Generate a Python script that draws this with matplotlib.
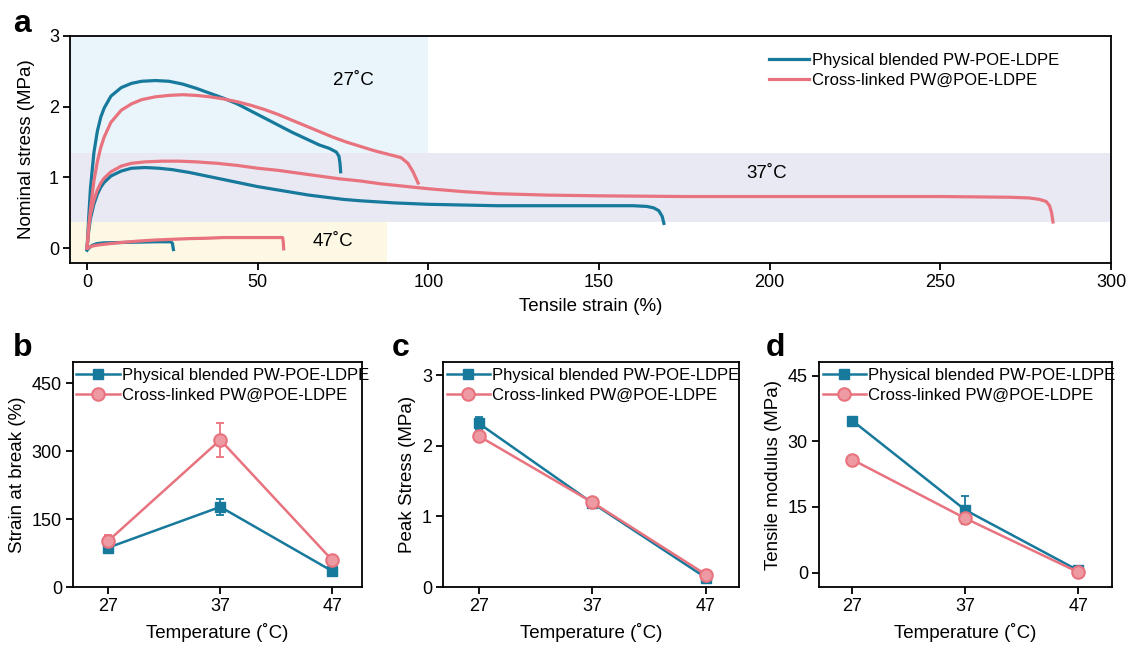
import matplotlib
matplotlib.use("Agg")
import matplotlib.pyplot as plt

plt.rcParams['font.family'] = ['Liberation Sans', 'DejaVu Sans']

BLUE = "#17799b"
PINK = "#e8737f"

# ---- panel a: stress-strain curves ----
blue27_x = [0, 0.5, 1, 2, 3, 4, 5, 7, 10, 13, 16, 20, 24, 28, 32, 36, 40, 44, 48, 52,
            56, 60, 64, 68, 71, 73, 73.8, 74.1, 74.3]
blue27_y = [0, 0.45, 0.85, 1.35, 1.65, 1.85, 1.98, 2.15, 2.27, 2.33, 2.36, 2.37, 2.36, 2.32,
            2.26, 2.19, 2.12, 2.04, 1.94, 1.84, 1.74, 1.64, 1.55, 1.46, 1.41, 1.36, 1.3, 1.2, 1.08]

pink27_x = [0, 0.5, 1, 2, 3, 4, 5, 7, 10, 13, 16, 20, 24, 28, 32, 36, 40, 44, 48, 52, 56,
            60, 64, 68, 72, 76, 80, 84, 88, 92, 94, 95.5, 97]
pink27_y = [0, 0.3, 0.55, 0.95, 1.22, 1.42, 1.57, 1.78, 1.95, 2.04, 2.1, 2.14, 2.16, 2.17,
            2.16, 2.14, 2.11, 2.07, 2.02, 1.96, 1.89, 1.81, 1.73, 1.65, 1.57, 1.5, 1.44, 1.38,
            1.33, 1.28, 1.2, 1.08, 0.92]

blue37_x = [0, 0.5, 1, 2, 3, 4, 5, 7, 10, 13, 17, 21, 25, 30, 35, 40, 45, 50, 55, 60, 65,
            70, 75, 80, 90, 100, 110, 120, 140, 160, 164, 166, 167.5, 168.5, 169]
blue37_y = [0, 0.25, 0.42, 0.62, 0.76, 0.86, 0.93, 1.02, 1.09, 1.13, 1.14, 1.13, 1.11, 1.07,
            1.02, 0.97, 0.92, 0.87, 0.83, 0.79, 0.75, 0.72, 0.69, 0.67, 0.64, 0.62, 0.61, 0.6,
            0.6, 0.6, 0.59, 0.57, 0.53, 0.45, 0.35]

pink37_x = [0, 0.5, 1, 2, 3, 4, 5, 7, 10, 13, 17, 22, 27, 32, 38, 44, 50, 56, 62, 68, 74, 80,
            86, 92, 100, 110, 120, 135, 150, 175, 200, 225, 250, 270, 276, 279, 281, 282,
            282.6, 283]
pink37_y = [0, 0.3, 0.48, 0.68, 0.82, 0.92, 0.99, 1.08, 1.16, 1.2, 1.22, 1.23, 1.23, 1.22,
            1.2, 1.17, 1.13, 1.1, 1.06, 1.02, 0.98, 0.95, 0.91, 0.88, 0.84, 0.8, 0.77, 0.75,
            0.74, 0.73, 0.73, 0.73, 0.73, 0.72, 0.71, 0.69, 0.66, 0.6, 0.5, 0.37]

blue47_x = [0, 0.5, 1.5, 3, 5, 10, 15, 20, 24.5, 25, 25.3]
blue47_y = [-0.03, 0.0, 0.04, 0.065, 0.075, 0.08, 0.085, 0.09, 0.09, 0.07, -0.02]

pink47_x = [0, 1, 2, 4, 7, 10, 15, 20, 25, 30, 35, 40, 45, 50, 55, 57.3, 57.5, 57.6]
pink47_y = [0, 0.02, 0.035, 0.05, 0.065, 0.08, 0.1, 0.115, 0.125, 0.135, 0.14, 0.15, 0.15,
            0.15, 0.15, 0.15, 0.08, -0.01]

# shaded temperature zones: (x0, x1, y0, y1)
zone27 = (-5, 100, 1.34, 3.0)
zone37 = (-5, 300, 0.37, 1.34)
zone47 = (-5, 88, -0.21, 0.37)

# ---- panels b-d ----
temps = [27, 37, 47]
strain_blue = [87, 177, 35]
strain_blue_err = [8, 17, 5]
strain_pink = [102, 325, 59]
strain_pink_err = [13, 37, 5]

stress_blue = [2.32, 1.19, 0.13]
stress_blue_err = [0.09, 0.04, 0.02]
stress_pink = [2.14, 1.2, 0.175]
stress_pink_err = [0.03, 0.03, 0.02]

mod_blue = [34.7, 14.3, 0.5]
mod_blue_err = [0.5, 3.3, 0.3]
mod_pink = [25.8, 12.4, 0.1]
mod_pink_err = [0.5, 1.0, 0.5]

lab_blue = "Physical blended PW-POE-LDPE"
lab_pink = "Cross-linked PW@POE-LDPE"

fig = plt.figure(figsize=(11.26, 6.48), dpi=100)
W, H = 1126.0, 648.0


def box(l, r, t, b):
    return [l / W, 1 - b / H, (r - l) / W, (b - t) / H]


def style(ax):
    for s in ax.spines.values():
        s.set_linewidth(1.3)
    ax.tick_params(direction='out', length=5, width=1.3, labelsize=13, pad=3)


ax = fig.add_axes(box(70, 1111, 36, 263))
ax.fill_between([zone27[0], zone27[1]], zone27[2], zone27[3], color="#eaf5fb", lw=0)
ax.fill_between([zone37[0], zone37[1]], zone37[2], zone37[3], color="#e9e9f3", lw=0)
ax.fill_between([zone47[0], zone47[1]], zone47[2], zone47[3], color="#fcf8e3", lw=0)
ax.plot(blue27_x, blue27_y, color=BLUE, lw=2.3, label=lab_blue)
ax.plot(blue37_x, blue37_y, color=BLUE, lw=2.3)
ax.plot(blue47_x, blue47_y, color=BLUE, lw=2.3)
ax.plot(pink27_x, pink27_y, color=PINK, lw=2.3, label=lab_pink)
ax.plot(pink37_x, pink37_y, color=PINK, lw=2.3)
ax.plot(pink47_x, pink47_y, color=PINK, lw=2.3)
ax.text(78, 2.37, "27˚C", fontsize=13.5, ha='center', va='center')
ax.text(199, 1.06, "37˚C", fontsize=13.5, ha='center', va='center')
ax.text(72, 0.1, "47˚C", fontsize=13.5, ha='center', va='center')
ax.set_xlim(-5, 300)
ax.set_ylim(-0.21, 3)
ax.set_xticks([0, 50, 100, 150, 200, 250, 300])
ax.set_yticks([0, 1, 2, 3])
ax.set_xlabel("Tensile strain (%)", fontsize=13.5, labelpad=5)
ax.set_ylabel("Nominal stress (MPa)", fontsize=13.5, labelpad=10)
style(ax)
ax.legend(loc='upper left', bbox_to_anchor=((769 - 70) / 1041, 0.925), frameon=False,
          fontsize=12, handlelength=2.4, handletextpad=0.15, labelspacing=0.3,
          borderpad=0, borderaxespad=0)


def small_panel(rect, yb, yb_err, yp, yp_err, ylim, yticks, ylabel, xlim):
    a = fig.add_axes(rect)
    a.errorbar(temps, yb, yerr=yb_err, fmt='none', ecolor=BLUE, capsize=3,
               elinewidth=1.3, capthick=1.3)
    a.errorbar(temps, yp, yerr=yp_err, fmt='none', ecolor=PINK, capsize=3,
               elinewidth=1.3, capthick=1.3)
    a.plot(temps, yb, color=BLUE, lw=1.8, marker='s', ms=7, label=lab_blue)
    a.plot(temps, yp, color=PINK, lw=1.8, marker='o', ms=9, mfc="#ee9aa3", mec=PINK,
           mew=1.5, label=lab_pink)
    a.set_xlim(*xlim)
    a.set_ylim(*ylim)
    a.set_xticks(temps)
    a.set_yticks(yticks)
    a.set_xlabel("Temperature (˚C)", fontsize=13.5, labelpad=6)
    a.set_ylabel(ylabel, fontsize=13.5, labelpad=4)
    style(a)
    a.legend(loc='upper left', bbox_to_anchor=(0.012, 0.975), frameon=False,
             fontsize=12, handlelength=2.6, handletextpad=0.15, labelspacing=0.3,
             borderpad=0, borderaxespad=0)
    return a


small_panel(box(73, 362, 362, 587), strain_blue, strain_blue_err, strain_pink,
            strain_pink_err, (0, 497), [0, 150, 300, 450], "Strain at break (%)",
            (23.85, 49.65))
small_panel(box(443, 739, 362, 587), stress_blue, stress_blue_err, stress_pink,
            stress_pink_err, (0, 3.19), [0, 1, 2, 3], "Peak Stress (MPa)",
            (23.85, 49.9))
small_panel(box(819, 1112, 362, 587), mod_blue, mod_blue_err, mod_pink,
            mod_pink_err, (-3.3, 48.1), [0, 15, 30, 45], "Tensile modulus (MPa)",
            (24.05, 50.0))

for txt, x, y in [("a", 13, 32), ("b", 13, 356), ("c", 392, 356), ("d", 766, 356)]:
    fig.text(x / W, 1 - y / H, txt, fontsize=23, fontweight='bold', va='baseline')

fig.savefig("out.png", dpi=100)
